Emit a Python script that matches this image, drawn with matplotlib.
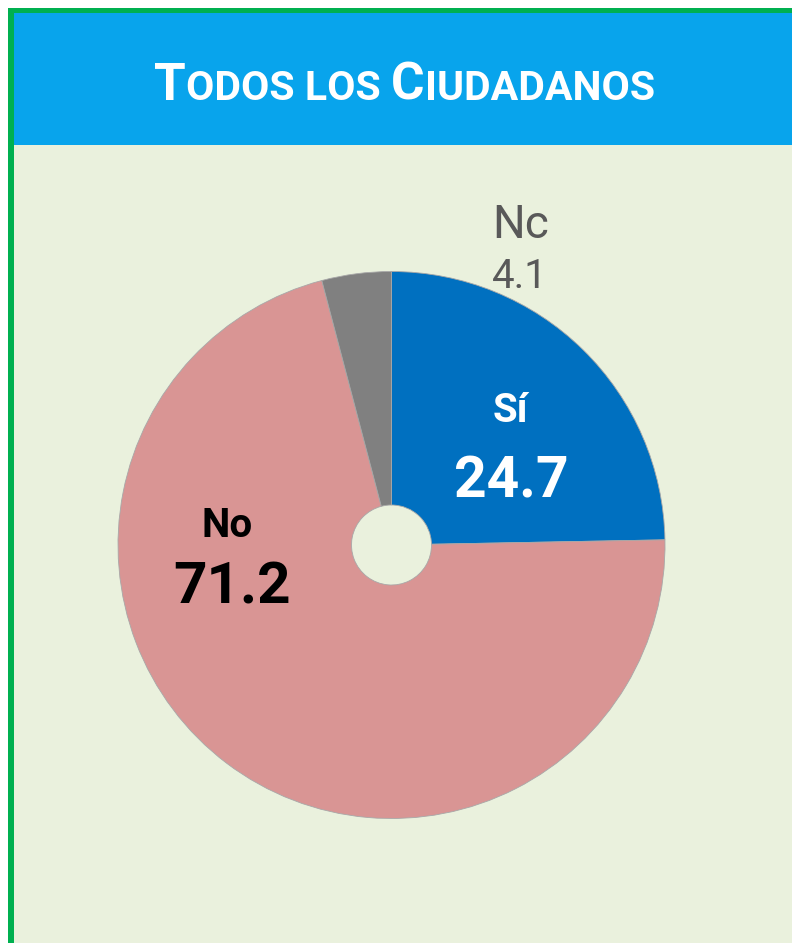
import matplotlib
matplotlib.use("Agg")
import matplotlib.pyplot as plt
from matplotlib.patches import Rectangle

# ---------------------------------------------------
# Data
# ---------------------------------------------------

labels = ["Sí", "No", "Nc"]
values = [24.7, 71.2, 4.1]
colors = ["#0070C0", "#D99594", "#808080"]

title_parts = [("T", True), ("ODOS LOS ", False), ("C", True), ("IUDADANOS", False)]

W, H = 792, 943
FONT = ["Roboto", "DejaVu Sans"]

fig = plt.figure(figsize=(W / 100, H / 100), dpi=100)
fig.patch.set_facecolor("white")


def px(x, y):
    return x / W, 1 - y / H


ax = fig.add_axes([0, 0, 1, 1])

# ---------------------------------------------------
# Panel background, border and header
# ---------------------------------------------------

def frect(x0, y0, x1, y1, color):
    ax.add_patch(Rectangle((x0, H - y1), x1 - x0, y1 - y0, facecolor=color,
                           edgecolor="none", zorder=0))

# ---------------------------------------------------
# Pie
# ---------------------------------------------------

cx, cy, r, hole = 391.5, H - 545, 273.5, 40
wedges, _ = ax.pie(values, colors=colors, startangle=90, counterclock=False,
                   center=(cx, cy), radius=r,
                   wedgeprops=dict(width=r - hole, edgecolor="#A8A8A8",
                                   linewidth=0.6))
for w in wedges:
    w.set_zorder(2)

frect(8, 8, W, H, "#00B050")
frect(14, 13, W, H, "#EAF1DD")
frect(14, 13, W, 145, "#08A4EC")

ax.set_xlim(0, W)
ax.set_ylim(0, H)
ax.set_aspect("auto")
ax.axis("off")

# ---------------------------------------------------
# Labels
# ---------------------------------------------------

fig.text(*px(510, 422), labels[0], color="white", fontsize=29, fontweight="bold",
         family=FONT, ha="center", va="baseline")
fig.text(*px(511, 498), f"{values[0]:.1f}", color="white", fontsize=41, fontweight="bold",
         family=FONT, ha="center", va="baseline")
fig.text(*px(227, 537), labels[1], color="black", fontsize=29, fontweight="bold",
         family=FONT, ha="center", va="baseline")
fig.text(*px(232, 603), f"{values[1]:.1f}", color="black", fontsize=42, fontweight="bold",
         family=FONT, ha="center", va="baseline")
fig.text(*px(521, 238), labels[2], color="#595959", fontsize=33,
         family=FONT, ha="center", va="baseline")
fig.text(*px(520, 288), f"{values[2]:.1f}", color="#595959", fontsize=29,
         family=FONT, ha="center", va="baseline")

# ---------------------------------------------------
# Small-caps title
# ---------------------------------------------------

renderer = fig.canvas.get_renderer()
pieces = []
for txt, big in title_parts:
    t = fig.text(0, 1 - 100 / H, txt, color="white", fontsize=37 if big else 29.5,
                 fontweight="bold", family=FONT, ha="left", va="baseline")
    pieces.append(t)

widths = [p.get_window_extent(renderer).width for p in pieces]
x = (172 + 637) / 2 - sum(widths) / 2
for p, w in zip(pieces, widths):
    p.set_x(x / W)
    x += w

fig.savefig("out.png", dpi=100)
